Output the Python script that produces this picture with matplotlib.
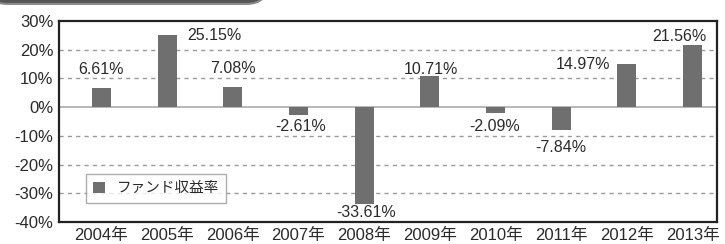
import numpy as np
import matplotlib.pyplot as plt
from matplotlib.patches import FancyBboxPatch

plt.rcParams['font.family'] = ['Liberation Sans', 'Noto Sans CJK JP', 'DejaVu Sans']

# data
years = ['2004年', '2005年', '2006年', '2007年', '2008年', '2009年', '2010年', '2011年', '2012年', '2013年']
returns = [6.61, 25.15, 7.08, -2.61, -33.61, 10.71, -2.09, -7.84, 14.97, 21.56]
series_name = 'ファンド収益率'

# label placement (pixel offsets from bar end), the chart puts some labels beside the bar
label_dx = [0, 47, 0, 2, 2, 1, -1, 0, -44, -13]
label_dy = [19, -1, 18, -12, -9, 7, -13, -18, 0, 9]

bar_color = '#6f6f6f'
text_color = '#2a2a2a'

fig = plt.figure(figsize=(7.25, 2.44), dpi=100)
ax = fig.add_axes([0.0814, 0.0902, 0.9076, 0.8238])

x = np.arange(len(years))
bars = ax.bar(x, returns, width=0.29, color=bar_color, label=series_name, zorder=3)

for i, v in enumerate(returns):
    ax.annotate(f'{v:.2f}%', xy=(i, v), xytext=(label_dx[i], label_dy[i]),
                textcoords='offset pixels', ha='center', va='center',
                fontsize=11.5, color=text_color, zorder=4)

ax.set_ylim(-40, 30)
ax.set_xlim(-0.646, 9.372)
ax.set_yticks(np.arange(-40, 31, 10))
ax.set_yticklabels([f'{t}%' for t in range(-40, 31, 10)])
ax.set_xticks(x)
ax.set_xticklabels(years)
ax.tick_params(axis='both', length=0, labelsize=12, colors=text_color)
ax.tick_params(axis='y', pad=4)
ax.tick_params(axis='x', pad=4)

for t in [-30, -20, -10, 10, 20]:
    ax.axhline(t, color='#999999', lw=1, ls=(0, (3, 3)), zorder=1)
ax.axhline(0, color='#aaaaaa', lw=1.2, zorder=2)

for s in ax.spines.values():
    s.set_color('#222222')
    s.set_linewidth(1.6)

leg = ax.legend(loc='lower left', bbox_to_anchor=(0.03, 0.06), fancybox=False,
                edgecolor='#999999', fontsize=10.5, handlelength=0.8, handleheight=0.8,
                borderpad=0.5, labelcolor=text_color)
leg.get_frame().set_linewidth(1)
leg.set_zorder(5)

# header box cut off at the top edge
hdr = FancyBboxPatch((-0.02, 0.984), 0.39, 0.2, boxstyle='round,pad=0,rounding_size=0.03',
                     transform=fig.transFigure, facecolor='#555555', edgecolor='#888888',
                     lw=1.5, mutation_aspect=3)
fig.patches.append(hdr)

fig.savefig('out.png', dpi=100)
